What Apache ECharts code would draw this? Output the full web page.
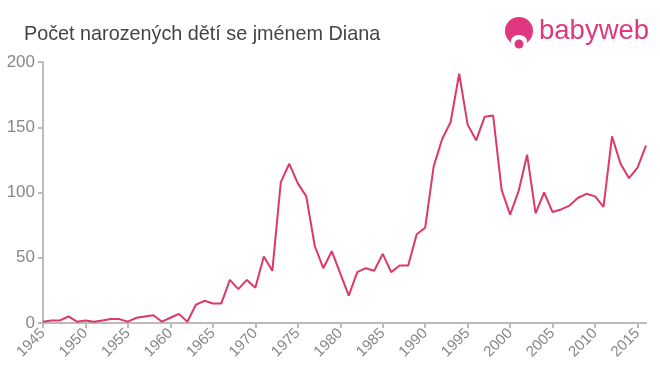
<!DOCTYPE html>
<html><head><meta charset="utf-8">
<script src="https://cdn.jsdelivr.net/npm/echarts@6/dist/echarts.min.js"></script>
<style>html,body{margin:0;padding:0;background:#fff}#c{width:660px;height:375px}</style>
</head><body><div id="c"></div>
<script>
const years = [];
for (let y = 1945; y <= 2016; y++) years.push(String(y));
const counts = [
1,2,2,5,1,2,1,2,3,3,
1,4,5,6,1,4,7,1,14,17,
15,15,33,26,33,27,51,40,108,122,
107,97,59,42,55,38,21,39,42,40,
53,39,44,44,68,73,120,141,154,191,
152,140,158,159,102,83,101,129,84,100,
85,87,90,96,99,97,89,143,122,111,
119,136];
const yTicks = [0,50,100,150,200];
const title = 'Počet narozených dětí se jménem Diana';
const brand = 'babyweb';

const chart = echarts.init(document.getElementById('c'), null, {renderer:'canvas'});
chart.setOption({
  animation:false,
  title:{text:title,left:19,top:20,textStyle:{fontFamily:'Liberation Sans, Arial',fontSize:19.8,fontWeight:'normal',color:'#444'}},
  graphic:[
    {type:'circle',shape:{cx:519,cy:31,r:14},style:{fill:'#e0377f'}},
    {type:'ellipse',shape:{cx:519,cy:41,rx:8,ry:6},style:{fill:'#fff'}},
    {type:'circle',shape:{cx:519,cy:44,r:4.5},style:{fill:'#e0377f'}},
    {type:'text',left:539,top:17,style:{text:brand,fontFamily:'Liberation Sans, Arial',fontSize:27.5,fill:'#e0377f'}}
  ],
  grid:{left:43,right:14,top:62,bottom:52},
  xAxis:{type:'category',data:years,boundaryGap:false,
    axisLine:{lineStyle:{color:'#bbb',width:2}},
    axisTick:{interval:4,length:5,lineStyle:{color:'#bbb',width:2}},
    axisLabel:{interval:4,rotate:45,color:'#888',fontSize:15,fontFamily:'Liberation Sans, Arial',margin:8}},
  yAxis:{type:'value',min:0,max:200,interval:50,
    axisLine:{show:true,lineStyle:{color:'#bbb',width:2}},
    axisTick:{show:true,length:5,lineStyle:{color:'#bbb',width:2}},
    splitLine:{show:false},
    axisLabel:{color:'#888',fontSize:17,fontFamily:'Liberation Sans, Arial',margin:8,
      formatter:v=>yTicks.includes(v)?String(v):''}},
  series:[{type:'line',data:counts,symbol:'none',lineStyle:{color:'#dc3868',width:2}}]
});
</script></body></html>
